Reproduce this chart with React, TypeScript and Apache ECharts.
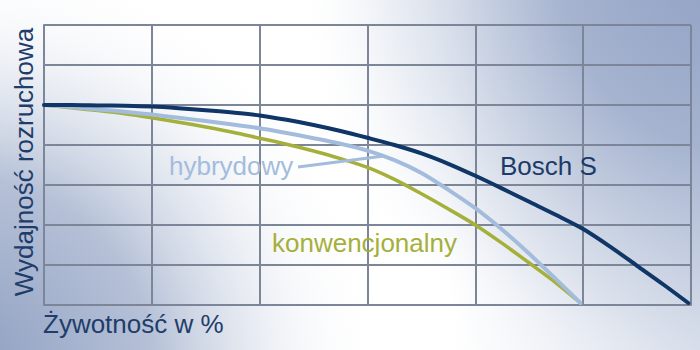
import React, { useEffect, useRef } from "react";
import * as echarts from "echarts";

// x = lifetime in %, y = cranking performance (relative units)
const xTicks = [0, 20, 40, 60, 80, 100, 120];
const yTicks = [0, 1, 2, 3, 4, 5, 6, 7];

const boschS: [number, number][] = [
  [0, 5.0], [5, 5.0], [10, 4.99], [15, 4.98], [20, 4.96], [25, 4.92], [30, 4.87],
  [35, 4.81], [40, 4.74], [45, 4.63], [50, 4.5], [55, 4.35], [60, 4.18], [65, 4.0],
  [70, 3.79], [75, 3.53], [80, 3.23], [85, 2.91], [90, 2.58], [95, 2.25], [100, 1.9],
  [105, 1.46], [110, 0.98], [115, 0.5], [119.5, 0.05],
];

const hybrid: [number, number][] = [
  [0, 5.0], [5, 4.95], [10, 4.89], [15, 4.83], [20, 4.76], [25, 4.68], [30, 4.6],
  [35, 4.51], [40, 4.42], [45, 4.3], [50, 4.17], [55, 4.03], [60, 3.86], [65, 3.62],
  [70, 3.3], [75, 2.88], [80, 2.42], [85, 1.88], [90, 1.28], [95, 0.64], [99.5, 0.05],
];

const conventional: [number, number][] = [
  [0, 5.0], [5, 4.93], [10, 4.86], [15, 4.78], [20, 4.68], [25, 4.57], [30, 4.45],
  [35, 4.32], [40, 4.17], [45, 4.02], [50, 3.85], [55, 3.66], [60, 3.44], [65, 3.14],
  [70, 2.78], [75, 2.4], [80, 2.0], [85, 1.54], [90, 1.05], [95, 0.55], [99.5, 0.05],
];

const seriesNames = ["konwencjonalny", "hybrydowy", "Bosch S"];
const xTitle = "Żywotność w %";
const yTitle = "Wydajność rozruchowa";

const FONT = "'Liberation Sans', Arial, sans-serif";
const NAVY = "#0f3666";
const LIGHT = "#a3bcdc";
const GREEN = "#a4b03a";
const GRIDC = "#7d8598";

export default function App() {
  const ref = useRef<HTMLDivElement>(null);
  useEffect(() => {
    document.body.style.margin = "0";
    const chart = echarts.init(ref.current!, null, { renderer: "svg" });
    const lineSeries = (name: string, data: [number, number][], color: string, width: number, z: number) => ({
      name, type: "line", data, smooth: 0.3, symbol: "none",
      lineStyle: { color, width, cap: "round", join: "round" }, z,
    });
    chart.setOption({
      animation: false,
      grid: { left: 44, right: 9, top: 25, bottom: 45 },
      xAxis: {
        type: "value",
        min: xTicks[0],
        max: xTicks[xTicks.length - 1],
        interval: 20,
        axisLine: { show: true, lineStyle: { color: GRIDC, width: 2 } },
        axisTick: { show: false },
        axisLabel: { show: false },
        splitLine: { show: true, lineStyle: { color: GRIDC, width: 2 } },
      },
      yAxis: {
        type: "value",
        min: yTicks[0],
        max: yTicks[yTicks.length - 1],
        interval: 1,
        axisLine: { show: true, lineStyle: { color: GRIDC, width: 2 } },
        axisTick: { show: false },
        axisLabel: { show: false },
        splitLine: { show: true, lineStyle: { color: GRIDC, width: 2 } },
      },
      graphic: [
        { type: "rect", z: -30, silent: true, shape: { x: 0, y: 0, width: 700, height: 350 }, style: { fill: "#ffffff" } },
        {
          type: "rect", z: -29, silent: true,
          shape: { x: 0, y: 0, width: 700, height: 350 },
          style: {
            fill: new echarts.graphic.RadialGradient(740, -30, 600, [
              { offset: 0, color: "rgba(135,152,190,1)" },
              { offset: 0.3, color: "rgba(145,162,197,0.8)" },
              { offset: 0.6, color: "rgba(170,185,210,0.2)" },
              { offset: 0.75, color: "rgba(255,255,255,0)" },
            ], true),
          },
        },
        {
          type: "rect", z: -28, silent: true,
          shape: { x: 0, y: 0, width: 700, height: 350 },
          style: {
            fill: new echarts.graphic.RadialGradient(-40, 370, 430, [
              { offset: 0, color: "rgba(140,157,192,1)" },
              { offset: 0.45, color: "rgba(150,166,198,0.7)" },
              { offset: 0.8, color: "rgba(200,210,225,0.15)" },
              { offset: 1, color: "rgba(255,255,255,0)" },
            ], true),
          },
        },
        {
          type: "rect", z: -27, silent: true,
          shape: { x: 450, y: 0, width: 250, height: 350 },
          style: {
            fill: new echarts.graphic.LinearGradient(0, 0, 1, 0, [
              { offset: 0, color: "rgba(160,175,205,0)" },
              { offset: 1, color: "rgba(160,175,205,0.35)" },
            ]),
          },
        },
        {
          type: "line", z: 5, silent: true,
          shape: { x1: 298, y1: 167, x2: 384, y2: 156 },
          style: { stroke: LIGHT, lineWidth: 3 },
        },
        {
          type: "text", z: 6, x: 169, y: 166,
          style: { text: seriesNames[1], fill: LIGHT, font: `26px ${FONT}`, align: "left", verticalAlign: "middle" },
        },
        {
          type: "text", z: 6, x: 272, y: 243,
          style: { text: seriesNames[0], fill: GREEN, font: `26px ${FONT}`, align: "left", verticalAlign: "middle" },
        },
        {
          type: "text", z: 6, x: 500, y: 166,
          style: { text: seriesNames[2], fill: "#1c3b69", font: `26px ${FONT}`, align: "left", verticalAlign: "middle" },
        },
        {
          type: "text", z: 6, x: 43, y: 324,
          style: { text: xTitle, fill: "#1f3d6a", font: `26px ${FONT}`, align: "left", verticalAlign: "middle" },
        },
        {
          type: "text", z: 6, x: 24, y: 162, rotation: Math.PI / 2,
          style: { text: yTitle, fill: "#1f3d6a", font: `26px ${FONT}`, align: "center", verticalAlign: "middle" },
        },
      ],
      series: [
        lineSeries(seriesNames[0], conventional, GREEN, 3.5, 2),
        lineSeries(seriesNames[1], hybrid, LIGHT, 4, 3),
        lineSeries(seriesNames[2], boschS, NAVY, 4, 4),
      ],
    });
    return () => chart.dispose();
  }, []);
  return <div ref={ref} style={{ width: 700, height: 350 }} />;
}
